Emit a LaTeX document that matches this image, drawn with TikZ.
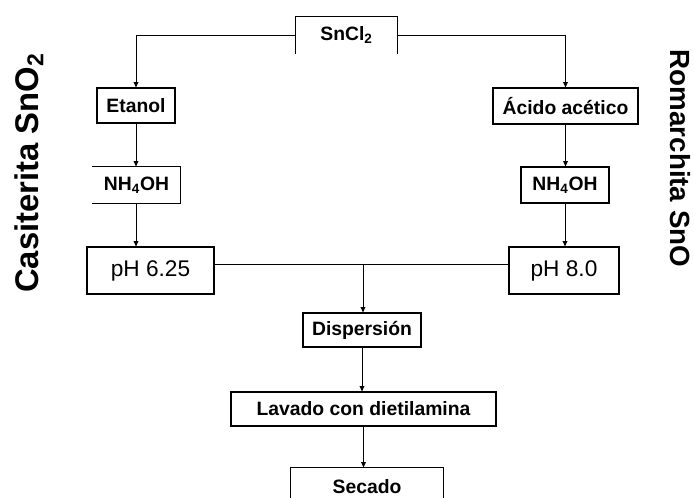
\documentclass[tikz,border=0pt]{standalone}
\usepackage{fontspec}
\setmainfont{Liberation Sans}
\usetikzlibrary{arrows.meta}

\begin{document}
\begin{tikzpicture}[x=0.75pt, y=-0.75pt,
    borde/.style={line width=0.9pt},
    caja/.style={draw, borde, inner sep=0pt, font=\fontsize{14.5}{17}\bfseries},
    cajaph/.style={caja, font=\fontsize{17}{20}\selectfont},
    abierta/.style={caja, draw=none},
    linea/.style={line width=0.7pt},
    flecha/.style={linea, -{Triangle[length=4pt, width=3.6pt]}},
    lado/.style={font=\fontsize{24.6}{28}\bfseries}]
    \useasboundingbox (0,0) rectangle (694,498);

    % Precursor
    \node[abierta, minimum width=75.75pt, minimum height=27pt] (sncl) at (346.5,35) {SnCl\textsubscript{2}};
    \draw[borde] (sncl.south west) -- (sncl.north west) -- (sncl.north east) -- (sncl.south east);

    % Rama izquierda (SnO2)
    \node[caja, minimum width=58.5pt, minimum height=26.25pt] (etanol) at (136,105.5) {Etanol};
    \node[abierta, minimum width=65.25pt, minimum height=27pt] (nhl) at (136.5,185) {NH\textsubscript{4}OH};
    \draw[borde] (nhl.north west) -- (nhl.north east) -- (nhl.south east) -- (nhl.south west);
    \node[cajaph, minimum width=95.25pt, minimum height=35.25pt] (phl) at (150.5,270.5) {pH 6.25};

    % Rama derecha (SnO)
    \node[caja, minimum width=108.75pt, minimum height=27pt] (acido) at (565.5,106) {Ácido acético};
    \node[caja, minimum width=66pt, minimum height=27pt] (nhr) at (565,185) {NH\textsubscript{4}OH};
    \node[cajaph, minimum width=82.5pt, minimum height=35.25pt] (phr) at (564,270.5) {pH 8.0};

    % Tramo comun
    \node[caja, minimum width=88.5pt, minimum height=25.5pt] (disp) at (362,330) {Dispersión};
    \node[caja, minimum width=198.75pt, minimum height=25.5pt] (lavado) at (363.5,409) {Lavado con dietilamina};
    \node[abierta, minimum width=114pt, minimum height=28.5pt] (secado) at (367,487) {Secado};
    \draw[borde] ([yshift=-10pt]secado.south west) -- (secado.north west) -- (secado.north east) -- ([yshift=-10pt]secado.south east);

    % Rotulos laterales
    \node[lado, rotate=90] (casiterita) at (29,173) {Casiterita SnO\textsubscript{2}};
    \node[lado, rotate=-90, font=\fontsize{20.8}{24}\bfseries] (romarchita) at (680,158.5) {Romarchita SnO};

    % Conexiones
    \draw[flecha] (sncl.west) -| (etanol.north);
    \draw[flecha] (sncl.east) -| (acido.north);
    \draw[flecha] (etanol.south) -- (nhl.north -| etanol.south);
    \draw[flecha] (nhl.south -| etanol.south) -- (phl.north -| etanol.south);
    \draw[flecha] (acido.south) -- (nhr.north -| acido.south);
    \draw[flecha] (nhr.south) -- (phr.north -| nhr.south);
    \coordinate (cruce) at (363,264);
    \draw[linea] (phl.east |- cruce) -- (phr.west |- cruce);
    \draw[flecha] (cruce) -- (disp.north -| cruce);
    \draw[flecha] (disp.south) -- (lavado.north -| disp.south);
    \draw[flecha] (lavado.south) -- (secado.north -| lavado.south);
\end{tikzpicture}
\end{document}
